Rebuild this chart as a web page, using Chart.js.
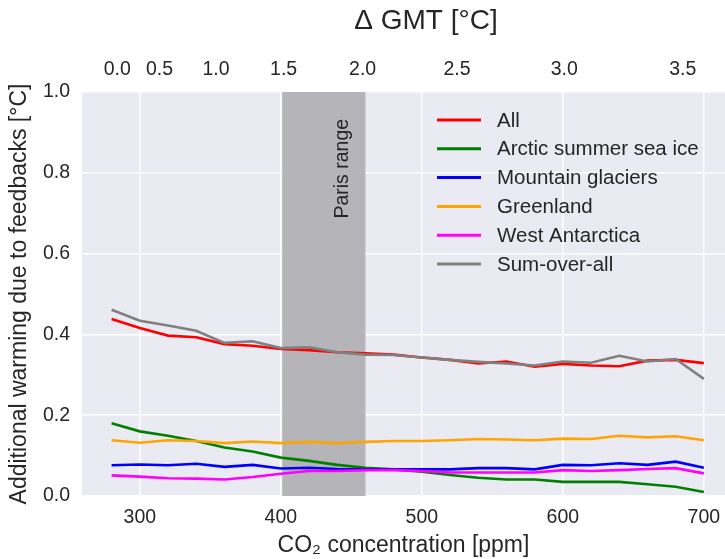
<!DOCTYPE html>
<html>
<head>
<meta charset="utf-8">
<script src="https://cdn.jsdelivr.net/npm/chart.js@4"></script>
<style>
  html, body { margin: 0; padding: 0; background: #fff; overflow: hidden; }
</style>
</head>
<body>
<canvas id="fbchart" width="725" height="559"></canvas>
<script>
// CO2 concentration [ppm]
const ppm = [280, 300, 320, 340, 360, 380, 400, 420, 440, 460, 480,
             500, 520, 540, 560, 580, 600, 620, 640, 660, 680, 700];

const allFb     = [0.438, 0.416, 0.397, 0.393, 0.376, 0.372, 0.364, 0.361, 0.356, 0.353, 0.350,
                   0.343, 0.337, 0.328, 0.333, 0.320, 0.327, 0.323, 0.321, 0.335, 0.337, 0.329];
const arcticIce = [0.180, 0.160, 0.149, 0.136, 0.120, 0.110, 0.095, 0.087, 0.077, 0.070, 0.066,
                   0.060, 0.052, 0.045, 0.041, 0.041, 0.035, 0.035, 0.035, 0.029, 0.023, 0.010];
const glaciers  = [0.076, 0.078, 0.076, 0.080, 0.072, 0.077, 0.068, 0.070, 0.067, 0.066, 0.066,
                   0.066, 0.066, 0.069, 0.069, 0.066, 0.077, 0.076, 0.081, 0.077, 0.085, 0.070];
const greenland = [0.138, 0.132, 0.138, 0.136, 0.131, 0.135, 0.131, 0.134, 0.131, 0.134, 0.136,
                   0.136, 0.138, 0.141, 0.140, 0.138, 0.142, 0.141, 0.149, 0.145, 0.148, 0.138];
const westAnt   = [0.051, 0.048, 0.044, 0.043, 0.041, 0.047, 0.055, 0.062, 0.062, 0.064, 0.064,
                   0.062, 0.058, 0.058, 0.058, 0.058, 0.064, 0.062, 0.064, 0.067, 0.069, 0.056];
const sumAll    = [0.461, 0.434, 0.422, 0.409, 0.379, 0.383, 0.366, 0.368, 0.356, 0.350, 0.349,
                   0.343, 0.337, 0.332, 0.328, 0.323, 0.333, 0.330, 0.347, 0.333, 0.339, 0.290];

const seriesNames = ['All', 'Arctic summer sea ice', 'Mountain glaciers', 'Greenland', 'West Antarctica', 'Sum-over-all'];
const seriesColors = ['#ff0000', '#008000', '#0000ff', '#ffa500', '#ff00ff', '#808080'];

// bottom ticks and top (Delta GMT) ticks
const ppmTicks = [300, 400, 500, 600, 700];
const gmtTicks = ['0.0', '0.5', '1.0', '1.5', '2.0', '2.5', '3.0', '3.5'];
const gmtTickPpm = [284, 314, 354, 402, 458, 525, 601, 685];
const yTicks = [0, 0.2, 0.4, 0.6, 0.8, 1.0];

// Paris range (1.5 - 2.0 degC)
const parisRange = [401, 460];

const textColor = '#262626';
const fontFam = '"Liberation Sans", Arial, sans-serif';

const values = [allFb, arcticIce, glaciers, greenland, westAnt, sumAll];
const datasets = values.map(function (v, i) {
    return {
        label: seriesNames[i],
        data: v.map(function (y, j) { return { x: ppm[j], y: y }; }),
        borderColor: seriesColors[i],
        backgroundColor: seriesColors[i],
        borderWidth: 2.6,
        pointRadius: 0,
        tension: 0,
        fill: false,
        order: values.length - 1 - i
    };
});

const backdrop = {
    id: 'backdrop',
    beforeDraw(chart) {
        const a = chart.chartArea, c = chart.ctx;
        c.save();
        c.fillStyle = '#eaeaf2';
        c.fillRect(a.left, a.top, a.right - a.left, a.bottom - a.top);
        c.restore();
    },
    beforeDatasetsDraw(chart) {
        const a = chart.chartArea, c = chart.ctx, xs = chart.scales.x;
        const x0 = xs.getPixelForValue(parisRange[0]);
        const x1 = xs.getPixelForValue(parisRange[1]);
        c.save();
        c.fillStyle = '#b4b4b9';
        c.fillRect(x0, a.top, x1 - x0, a.bottom - a.top);
        // label
        c.translate(xs.getPixelForValue(444), chart.scales.y.getPixelForValue(0.81));
        c.rotate(-Math.PI / 2);
        c.fillStyle = textColor;
        c.font = '19.5px ' + fontFam;
        c.textAlign = 'center';
        c.textBaseline = 'middle';
        c.fillText('Paris range', 0, 0);
        c.restore();
    }
};

const overlay = {
    id: 'overlay',
    afterDraw(chart) {
        const a = chart.chartArea, c = chart.ctx;
        c.save();
        // top axis title
        c.fillStyle = textColor;
        c.font = '28px ' + fontFam;
        c.textAlign = 'center';
        c.textBaseline = 'middle';
        c.fillText('\u0394 GMT [\u00b0C]', 426, 21);

        // legend
        c.font = '20.5px ' + fontFam;
        c.textAlign = 'left';
        const lx = a.left + 355, ly = a.top + 28, step = 28.8;
        chart.data.datasets.forEach(function (ds, i) {
            const y = ly + i * step;
            c.strokeStyle = ds.borderColor;
            c.lineWidth = 3;
            c.beginPath();
            c.moveTo(lx, y);
            c.lineTo(lx + 44, y);
            c.stroke();
            c.fillStyle = textColor;
            c.fillText(ds.label, lx + 60, y + 1);
        });
        c.restore();
    }
};

function noSidePad(s) {
    s.paddingLeft = 0;
    s.paddingRight = 0;
}

const ctx = document.getElementById('fbchart').getContext('2d');
const fbChart = new Chart(ctx, {
    type: 'line',
    data: { datasets: datasets },
    plugins: [backdrop, overlay],
    options: {
        responsive: false,
        animation: false,
        layout: { padding: 0 },
        plugins: {
            legend: { display: false },
            tooltip: { enabled: false }
        },
        scales: {
            x: {
                type: 'linear',
                position: 'bottom',
                min: 259,
                max: 715,
                afterFit: function (s) { s.height = 63; noSidePad(s); },
                afterBuildTicks: function (s) { s.ticks = ppmTicks.map(function (v) { return { value: v }; }); },
                grid: { color: '#ffffff', lineWidth: 1.5, drawTicks: false },
                border: { display: false },
                ticks: {
                    padding: 10,
                    color: textColor,
                    font: { family: fontFam, size: 19.5 },
                    maxRotation: 0,
                    callback: function (v) { return String(v); }
                },
                title: {
                    display: true,
                    text: 'CO\u2082 concentration [ppm]',
                    color: textColor,
                    font: { family: fontFam, size: 23 },
                    padding: { top: 0, bottom: 0 }
                }
            },
            x2: {
                type: 'linear',
                position: 'top',
                min: 259,
                max: 715,
                afterFit: function (s) { s.height = 92; noSidePad(s); },
                afterBuildTicks: function (s) { s.ticks = gmtTickPpm.map(function (v) { return { value: v }; }); },
                grid: { display: false, drawTicks: false },
                border: { display: false },
                ticks: {
                    padding: 11,
                    color: textColor,
                    font: { family: fontFam, size: 19.5 },
                    maxRotation: 0,
                    autoSkip: false,
                    callback: function (v, i) { return gmtTicks[i]; }
                }
            },
            y: {
                min: 0,
                max: 1,
                afterFit: function (s) { s.width = 82; },
                afterBuildTicks: function (s) { s.ticks = yTicks.map(function (v) { return { value: v }; }); },
                grid: { color: '#ffffff', lineWidth: 1.5, drawTicks: false },
                border: { display: false },
                ticks: {
                    padding: 12,
                    color: textColor,
                    font: { family: fontFam, size: 19.5 },
                    callback: function (v) { return v.toFixed(1); }
                },
                title: {
                    display: true,
                    text: 'Additional warming due to feedbacks [\u00b0C]',
                    color: textColor,
                    font: { family: fontFam, size: 23 },
                    padding: { top: 6, bottom: 0 }
                }
            }
        }
    }
});
</script>
</body>
</html>
